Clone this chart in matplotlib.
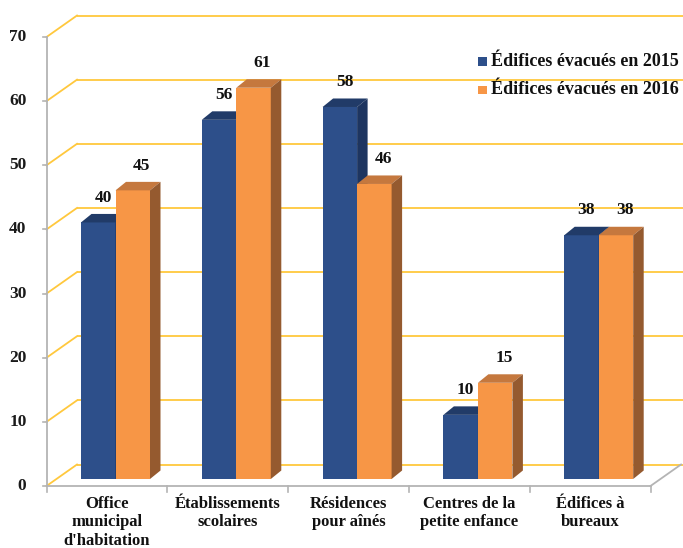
import matplotlib
matplotlib.use("Agg")
import matplotlib.pyplot as plt
from matplotlib.patches import Polygon, Rectangle

# ---------------- data ----------------
categories = ["Office\nmunicipal\nd'habitation", "Établissements\nscolaires",
              "Résidences\npour aînés", "Centres de la\npetite enfance",
              "Édifices à\nbureaux"]
series_names = ["Édifices évacués en 2015", "Édifices évacués en 2016"]
values_2015 = [40, 56, 58, 10, 38]
values_2016 = [45, 61, 46, 15, 38]
y_ticks = [0, 10, 20, 30, 40, 50, 60, 70]

# ---------------- style / geometry ----------------
FONT = "Liberation Serif"
GOLD = "#FFC83D"
GRAY = "#B4B4B4"
colors_front = ["#2D4F8A", "#F79646"]
colors_top = ["#213B68", "#C5783E"]
colors_side = ["#1E3560", "#955A2F"]

W, H, DPI = 6.83, 5.48, 100
px_per_x = 120.8          # pixels per category
px_per_y = 6.414          # pixels per unit value
x0_px, y0_px = 46.5, 486  # origin of front plane in pixels (from top-left)

fig = plt.figure(figsize=(W, H), dpi=DPI)
ax = fig.add_axes([0, 0, 1, 1])
ax.set_xlim(-x0_px / px_per_x, (683 - x0_px) / px_per_x)
ax.set_ylim((y0_px - 548) / px_per_y, y0_px / px_per_y)
ax.axis("off")

n = len(categories)
wall_dx = 30.5 / px_per_x
wall_dy = 21.5 / px_per_y
ymax = y_ticks[-1]

# back wall gridlines and left wall diagonals
for t in y_ticks:
    ax.plot([wall_dx, n + 0.28], [t + wall_dy, t + wall_dy], color=GOLD, lw=1.3,
            solid_capstyle="butt", zorder=1)
    ax.plot([0, wall_dx], [t, t + wall_dy], color=GOLD, lw=1.3, zorder=1)

# floor front edge and right edge
ax.plot([0, n], [0, 0], color=GRAY, lw=1.3, zorder=2)
ax.plot([n, n + wall_dx], [0, wall_dy], color=GRAY, lw=1.3, zorder=2)
# y axis
ax.plot([0, 0], [0, ymax], color=GRAY, lw=1.3, zorder=2)
tick_len_x = 4 / px_per_x
tick_len_y = 6 / px_per_y
for t in y_ticks:
    ax.plot([-tick_len_x, 0], [t, t], color=GRAY, lw=1.2, zorder=2)
    ax.text(-20 / px_per_x, t, str(t), ha="right", va="center",
            fontsize=12.5, fontweight="bold", family=FONT, color="#1a1a1a")
for i in range(n + 1):
    ax.plot([i, i], [0, -tick_len_y], color=GRAY, lw=1.2, zorder=2)

# category labels
for i, c in enumerate(categories):
    ax.text(i + 0.5, -1.5, c, ha="center", va="top", fontsize=12,
            fontweight="bold", family=FONT, linespacing=1.22, color="#111111")

# bars
bar_left = 34.5 / px_per_x
bar_w = 34.5 / px_per_x
bar_base = 7 / px_per_y
bdx = 10.5 / px_per_x
bdy = 8.5 / px_per_y

series = [values_2015, values_2016]
for i in range(n):
    for s, vals in enumerate(series):
        v = vals[i]
        xl = i + bar_left + s * bar_w
        xr = xl + bar_w
        yb = bar_base
        yt = bar_base + v
        z = 3 + i * 0.1 + s * 0.01
        ax.add_patch(Polygon([(xl, yb), (xr, yb), (xr, yt), (xl, yt)], closed=True,
                             facecolor=colors_front[s], edgecolor="none", zorder=z))
        ax.add_patch(Polygon([(xl, yt), (xr, yt), (xr + bdx, yt + bdy), (xl + bdx, yt + bdy)],
                             closed=True, facecolor=colors_top[s], edgecolor="none", zorder=z))
        ax.add_patch(Polygon([(xr, yb), (xr + bdx, yb + bdy), (xr + bdx, yt + bdy), (xr, yt)],
                             closed=True, facecolor=colors_side[s], edgecolor="none", zorder=z))
        ax.text(xl + bar_w / 2 + (5 + 4 * s) / px_per_x, yt + bdy + 1.3, str(v), ha="center",
                va="bottom", fontsize=12.5, fontweight="bold", family=FONT,
                color="#111111", zorder=10)

# legend
leg_x = (478 - x0_px) / px_per_x
for s, name in enumerate(series_names):
    yy = (y0_px - (62 + 28 * s)) / px_per_y
    ax.add_patch(Rectangle((leg_x, yy - 4 / px_per_y), 8.5 / px_per_x, 8.5 / px_per_y,
                           facecolor=colors_front[s], edgecolor="none", zorder=10))
    ax.text(leg_x + 13 / px_per_x, yy, name, ha="left", va="center", fontsize=13,
            fontweight="bold", family=FONT, color="#111111", zorder=10)

fig.savefig("out.png", dpi=DPI)
